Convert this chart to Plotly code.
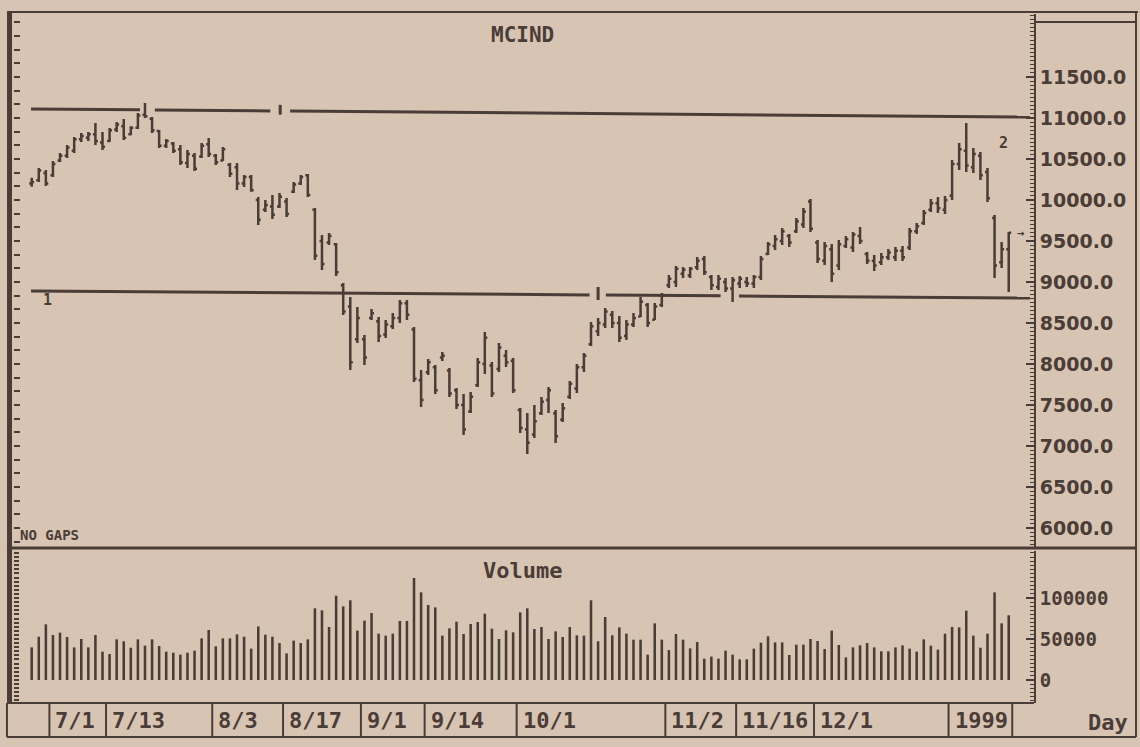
import plotly.graph_objects as go

# daily bars, index 0 = first trading day shown (late June 1998)
days = list(range(139))

high = [10270, 10390, 10366, 10475, 10573, 10670, 10768, 10817, 10830, 10940,
        10830, 10878, 10950, 10988, 10900, 11060, 11183, 11012, 10854, 10744,
        10707, 10670, 10610, 10573, 10695, 10756, 10561, 10646, 10451, 10451,
        10305, 10305, 10036, 10000, 10060, 10085, 10024, 10220, 10305, 10317,
        9902, 9573, 9598, 9475, 8988, 8817, 8695, 8354, 8670, 8573,
        8537, 8622, 8780, 8780, 8451, 7927, 8061, 7988, 8146, 7951,
        7707, 7634, 7658, 8073, 8390, 8024, 8256, 8171, 8073, 7463,
        7402, 7500, 7598, 7720, 7439, 7524, 7793, 8000, 8134, 8512,
        8561, 8683, 8646, 8585, 8537, 8622, 8817, 8744, 8744, 8866,
        9085, 9195, 9183, 9183, 9305, 9317, 9085, 9085, 9049, 9061,
        9073, 9061, 9085, 9317, 9488, 9573, 9658, 9585, 9780, 9902,
        10012, 9512, 9488, 9463, 9512, 9560, 9610, 9670, 9366, 9329,
        9354, 9402, 9427, 9439, 9658, 9720, 9878, 10012, 10036, 10049,
        10488, 10695, 10940, 10634, 10585, 10390, 9817, 9488, 9610]

low = [10160, 10220, 10170, 10280, 10463, 10512, 10573, 10707, 10720, 10670,
       10610, 10707, 10830, 10732, 10790, 10866, 11000, 10817, 10634, 10634,
       10573, 10427, 10390, 10354, 10512, 10524, 10427, 10475, 10280, 10122,
       10158, 10100, 9695, 9854, 9768, 9902, 9792, 10085, 10183, 10036,
       9268, 9146, 9451, 9073, 8598, 7927, 8256, 7988, 8537, 8268,
       8317, 8427, 8500, 8537, 7780, 7475, 7866, 7634, 8036, 7598,
       7451, 7134, 7402, 7720, 7878, 7598, 7902, 7963, 7646, 7158,
       6902, 7098, 7378, 7402, 7036, 7293, 7573, 7646, 7902, 8220,
       8341, 8439, 8439, 8268, 8293, 8451, 8573, 8451, 8537, 8695,
       8927, 8939, 9049, 9049, 9146, 9085, 8902, 8902, 8878, 8756,
       8927, 8939, 8927, 9024, 9329, 9390, 9451, 9427, 9598, 9658,
       9610, 9231, 9207, 9000, 9146, 9415, 9366, 9463, 9220, 9134,
       9207, 9268, 9256, 9256, 9390, 9585, 9695, 9854, 9841, 9829,
       10000, 10366, 10341, 10329, 10244, 9975, 9049, 9170, 8878]

open_ = [10200, 10240, 10330, 10300, 10480, 10540, 10600, 10740, 10760, 10800,
         10700, 10720, 10860, 10900, 10800, 10880, 11040, 10990, 10840, 10660,
         10690, 10620, 10450, 10540, 10530, 10680, 10540, 10480, 10430, 10400,
         10200, 10280, 10000, 9880, 9920, 9920, 9980, 10100, 10200, 10300,
         9880, 9500, 9480, 9460, 8960, 8700, 8300, 8300, 8560, 8520,
         8360, 8460, 8560, 8740, 8420, 7800, 7900, 7960, 8080, 7920,
         7680, 7500, 7420, 7740, 8000, 7980, 7940, 8100, 8040, 7440,
         7200, 7140, 7400, 7560, 7400, 7320, 7600, 7700, 7960, 8240,
         8400, 8480, 8600, 8500, 8340, 8480, 8580, 8720, 8540, 8720,
         8960, 9000, 9100, 9080, 9180, 9280, 9060, 8940, 9000, 8920,
         8980, 9000, 8980, 9060, 9340, 9440, 9500, 9560, 9620, 9700,
         9980, 9480, 9260, 9400, 9200, 9440, 9420, 9560, 9340, 9260,
         9240, 9300, 9300, 9380, 9420, 9620, 9720, 9880, 9960, 9880,
         10050, 10440, 10600, 10400, 10540, 10340, 9780, 9240, 9400]

close = [10220, 10360, 10200, 10440, 10540, 10640, 10740, 10780, 10800, 10720,
         10650, 10850, 10920, 10760, 10880, 11030, 11020, 10850, 10660, 10720,
         10600, 10460, 10560, 10380, 10660, 10560, 10460, 10620, 10320, 10200,
         10280, 10120, 9760, 9940, 9820, 10040, 9830, 10190, 10280, 10060,
         9320, 9220, 9560, 9120, 8640, 8020, 8560, 8080, 8620, 8340,
         8480, 8560, 8740, 8600, 7820, 7560, 8020, 7680, 8100, 7640,
         7500, 7200, 7600, 8020, 8320, 7640, 8200, 8020, 7680, 7220,
         7040, 7300, 7540, 7680, 7120, 7460, 7760, 7960, 8100, 8460,
         8500, 8640, 8500, 8320, 8480, 8560, 8760, 8500, 8700, 8840,
         9040, 9160, 9150, 9160, 9260, 9120, 8960, 9040, 8920, 9020,
         9040, 8980, 9060, 9280, 9460, 9520, 9620, 9480, 9740, 9860,
         9650, 9280, 9440, 9100, 9460, 9520, 9580, 9500, 9260, 9200,
         9300, 9360, 9380, 9300, 9620, 9680, 9840, 9960, 9900, 10000,
         10440, 10620, 10420, 10560, 10300, 10020, 9200, 9400, 9600]

volume = [39800, 52800, 67900, 54900, 57700, 52400, 39800, 50000, 39800, 54900,
          34600, 31700, 49600, 47200, 39400, 49600, 41900, 49600, 41500, 34600,
          33300, 30900, 33300, 35800, 50800, 61000, 41100, 50800, 50800, 55700,
          52800, 38200, 65400, 55300, 52800, 45100, 32500, 48000, 45100, 49600,
          87400, 85000, 64600, 102800, 89800, 97200, 60200, 72400, 81700, 56500,
          54100, 56500, 72000, 72000, 124400, 106900, 91500, 88600, 54100, 63000,
          71100, 56100, 68300, 70700, 80900, 62600, 50000, 60600, 58100, 82500,
          87400, 62200, 64600, 50000, 59300, 52400, 64600, 54500, 54100, 97200,
          47200, 76800, 54500, 64200, 56500, 49200, 49200, 30900, 69100, 49200,
          36600, 56100, 49200, 38600, 46300, 26000, 28500, 26000, 35800, 30900,
          25200, 25200, 38200, 45500, 53300, 45900, 45900, 30500, 43100, 43100,
          50000, 47600, 37800, 60200, 42700, 27600, 39800, 42300, 45100, 39800,
          35000, 35000, 39800, 42300, 38200, 34600, 49600, 41900, 37000, 56500,
          64600, 64200, 84600, 54100, 39400, 56500, 106900, 69100, 78900]

date_labels = ["7/1", "7/13", "8/3", "8/17", "9/1", "9/14", "10/1",
               "11/2", "11/16", "12/1", "1999"]
date_index = [3, 11, 26, 36, 47, 56, 69, 90, 100, 111, 130]

price_ticks = [6000, 6500, 7000, 7500, 8000, 8500, 9000, 9500, 10000, 10500, 11000, 11500]
volume_ticks = [0, 50000, 100000]

# support / resistance lines (bar index, level), None = break
line1_x = [-0.1, 78.8, None, 81.1, 97.3, None, 99.9, 141.0]
line1_y = [8890, 8842, None, 8841, 8831, None, 8829, 8804]
line2_x = [-0.1, 15.3, None, 17.4, 33.7, None, 36.5, 141.0]
line2_y = [11110, 11099, None, 11098, 11086, None, 11084, 11011]
pivot_x = [35.1, 35.1, None, 80.0, 80.0]
pivot_y = [11160, 11040, None, 8939, 8780]

bg = "#d8c4b2"
ink = "#4a3c36"
mono = "DejaVu Sans Mono"
sans = "DejaVu Sans"

fig = go.Figure()

fig.add_trace(go.Ohlc(x=days, open=open_, high=high, low=low, close=close,
                      increasing_line_color=ink, decreasing_line_color=ink,
                      line_width=2.5, tickwidth=0.35, hoverinfo="skip",
                      xaxis="x", yaxis="y"))

for lx, ly in [(line1_x, line1_y), (line2_x, line2_y), (pivot_x, pivot_y)]:
    fig.add_trace(go.Scatter(x=lx, y=ly, mode="lines", connectgaps=False,
                             line=dict(color=ink, width=3), hoverinfo="skip",
                             xaxis="x", yaxis="y"))

fig.add_trace(go.Bar(x=days, y=volume, width=0.36, marker_color=ink,
                     marker_line_width=0, hoverinfo="skip",
                     xaxis="x", yaxis="y2"))

# empty traces so the left tick rulers get drawn
fig.add_trace(go.Scatter(x=[None], y=[None], xaxis="x", yaxis="y3", hoverinfo="skip"))
fig.add_trace(go.Scatter(x=[None], y=[None], xaxis="x", yaxis="y4", hoverinfo="skip"))

price_rng = [5756, 12268]
vol_rng = [-28050, 157315]

shapes = []
def pline(x0, y0, x1, y1, w=2):
    shapes.append(dict(type="line", xref="paper", yref="paper", x0=x0, y0=y0,
                       x1=x1, y1=y1, line=dict(color=ink, width=w)))

pline(-0.0069, 1.0029, 1.102, 1.0029, 2)     # top frame
pline(1.1, -0.0493, 1.1, 1.0029, 2)           # right frame
pline(-0.0069, 0.225, 1.1, 0.225, 3)          # panel separator
pline(-0.0069, 0.0, 1.0, 0.0, 2)              # bottom of volume panel
pline(-0.0069, -0.0493, 1.1, -0.0493, 2)      # bottom of date row
pline(-0.0044, 0.0, -0.0044, 1.0029, 5)       # heavy left edge
pline(-0.0069, -0.0493, -0.0069, 0.0, 2)
pline(1.0, 0.9884, 1.1, 0.9884, 2)

for idx in date_index + [days[-1] + 1]:
    shapes.append(dict(type="line", xref="x", yref="paper", x0=idx - 0.5, x1=idx - 0.5,
                       y0=0.0, y1=-0.0493, line=dict(color=ink, width=2)))

def txt(size, family=mono):
    return dict(family=family, size=size, color=ink, weight="bold")

annotations = []
for lab, idx in zip(date_labels, date_index):
    annotations.append(dict(x=idx - 0.5, y=-0.0247, xref="x", yref="paper", text=lab,
                            showarrow=False, xanchor="left", yanchor="middle", xshift=4,
                            font=txt(22)))

annotations += [
    dict(x=0.499, y=0.9695, xref="paper", yref="paper", text="MCIND", showarrow=False,
         xanchor="center", yanchor="middle", font=txt(21)),
    dict(x=0.499, y=0.193, xref="paper", yref="paper", text="Volume", showarrow=False,
         xanchor="center", yanchor="middle", font=txt(22)),
    dict(x=0.004, y=0.2438, xref="paper", yref="paper", text="NO GAPS", showarrow=False,
         xanchor="left", yanchor="middle", font=txt(14)),
    dict(x=1.0725, y=-0.0276, xref="paper", yref="paper", text="Day", showarrow=False,
         xanchor="center", yanchor="middle", font=txt(22)),
    dict(x=2.3, y=8780, xref="x", yref="y", text="1", showarrow=False,
         xanchor="center", yanchor="middle", font=txt(15)),
    dict(x=137.3, y=10695, xref="x", yref="y", text="2", showarrow=False,
         xanchor="center", yanchor="middle", font=txt(15)),
    dict(x=139.6, y=9600, xref="x", yref="y", text="→", showarrow=False,
         xanchor="center", yanchor="middle", font=txt(12)),
]

fig.update_layout(
    width=1140, height=747,
    margin=dict(l=14, r=106, t=14, b=44),
    paper_bgcolor=bg, plot_bgcolor=bg,
    showlegend=False,
    shapes=shapes, annotations=annotations,
    xaxis=dict(range=[-2.5, 141.57], visible=False, rangeslider=dict(visible=False),
               anchor="y"),
    yaxis=dict(domain=[0.225, 1], range=price_rng, side="right", anchor="x",
               showgrid=False, zeroline=False, showline=True, linecolor=ink, linewidth=2,
               ticks="inside", ticklen=8, tickwidth=2, tickcolor=ink,
               tickvals=price_ticks, tickformat=".1f", tickfont=txt(19, sans),
               minor=dict(dtick=50, ticks="inside", ticklen=4, tickcolor=ink, tickwidth=1)),
    yaxis2=dict(domain=[0, 0.2206], range=vol_rng, side="right", anchor="x",
                showgrid=False, zeroline=False, showline=True, linecolor=ink, linewidth=2,
                ticks="inside", ticklen=8, tickwidth=2, tickcolor=ink,
                tickvals=volume_ticks, tickformat="d", tickfont=txt(19),
                minor=dict(dtick=5000, ticks="inside", ticklen=4, tickcolor=ink, tickwidth=1)),
    yaxis3=dict(overlaying="y", side="left", range=price_rng, anchor="x",
                showgrid=False, zeroline=False, showticklabels=False, showline=False,
                ticks="inside", ticklen=6, tickwidth=2, tickcolor=ink,
                tick0=6000, dtick=500 / 3),
    yaxis4=dict(overlaying="y2", side="left", range=vol_rng, anchor="x",
                showgrid=False, zeroline=False, showticklabels=False, showline=False,
                ticks="inside", ticklen=5, tickwidth=2, tickcolor=ink,
                tick0=0, dtick=5000),
)

# page body has a default 8px margin; drop it so the figure fills the window
fig.write_html("out.html", config={"displayModeBar": False},
               post_script="document.body.style.margin='0';")
